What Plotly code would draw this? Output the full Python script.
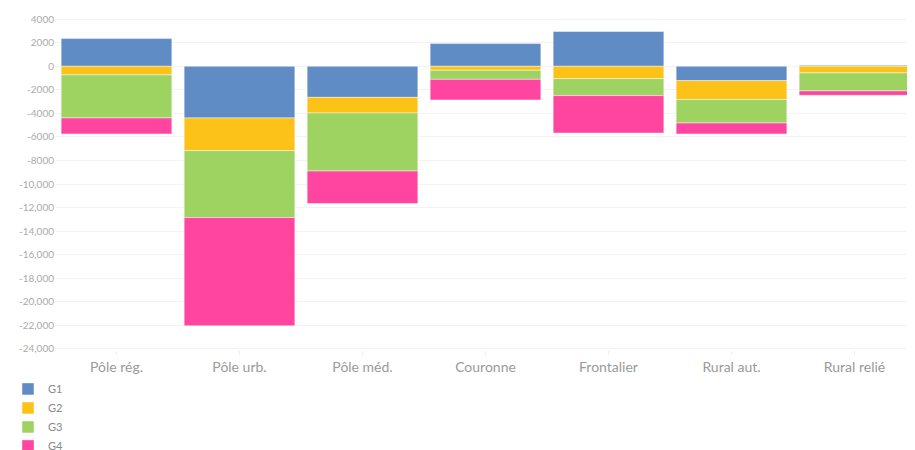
import plotly.graph_objects as go

categories = ["Pôle rég.", "Pôle urb.", "Pôle méd.", "Couronne", "Frontalier", "Rural aut.", "Rural relié"]
g1 = [2350, -4390, -2640, 1930, 2950, -1220, 80]
g2 = [-730, -2780, -1330, -340, -1050, -1610, -560]
g3 = [-3660, -5680, -4930, -770, -1440, -1990, -1530]
g4 = [-1360, -9190, -2760, -1750, -3180, -930, -380]

tick_vals = [4000, 2000, 0, -2000, -4000, -6000, -8000, -10000, -12000, -14000,
             -16000, -18000, -20000, -22000, -24000]
tick_text = ["4000", "2000", "0", "-2000", "-4000", "-6000", "-8000", "-10,000", "-12,000",
             "-14,000", "-16,000", "-18,000", "-20,000", "-22,000", "-24,000"]

series = [
    ("G1", g1, "#5f8cc4"),
    ("G2", g2, "#fdc218"),
    ("G3", g3, "#9ed362"),
    ("G4", g4, "#ff45a0"),
]

fig = go.Figure()
for name, values, color in series:
    fig.add_trace(
        go.Bar(
            x=categories,
            y=values,
            name=name,
            marker={"color": color, "line": {"color": "rgba(255,255,255,0.45)", "width": 1}},
        )
    )

# the page body adds an 8px margin, so the figure is sized to fit inside it
fig.update_layout(
    barmode="relative",
    bargap=0.1,
    width=908,
    height=442,
    margin={"l": 47, "r": 0, "t": 10, "b": 100, "autoexpand": False},
    plot_bgcolor="white",
    paper_bgcolor="white",
    font={"family": "Lato, 'Open Sans', sans-serif", "color": "#999999"},
    showlegend=True,
    legend={
        "orientation": "v",
        "xref": "container",
        "yref": "container",
        "x": 0.0,
        "xanchor": "left",
        "y": 0.171,
        "yanchor": "top",
        "font": {"size": 11, "color": "#888888"},
        "traceorder": "normal",
        "tracegroupgap": 0,
        "itemwidth": 30,
    },
    xaxis={
        "tickfont": {"size": 14, "color": "#9a9a9a"},
        "ticks": "outside",
        "ticklen": 4,
        "tickcolor": "#eeeeee",
        "showgrid": False,
        "showline": False,
    },
    yaxis={
        "range": [-24100, 4100],
        "tickvals": tick_vals,
        "ticktext": tick_text,
        "tickfont": {"size": 10, "color": "#aaaaaa"},
        "gridcolor": "#f2f2f2",
        "zeroline": False,
        "showline": False,
    },
)

fig.write_html("out.html")
